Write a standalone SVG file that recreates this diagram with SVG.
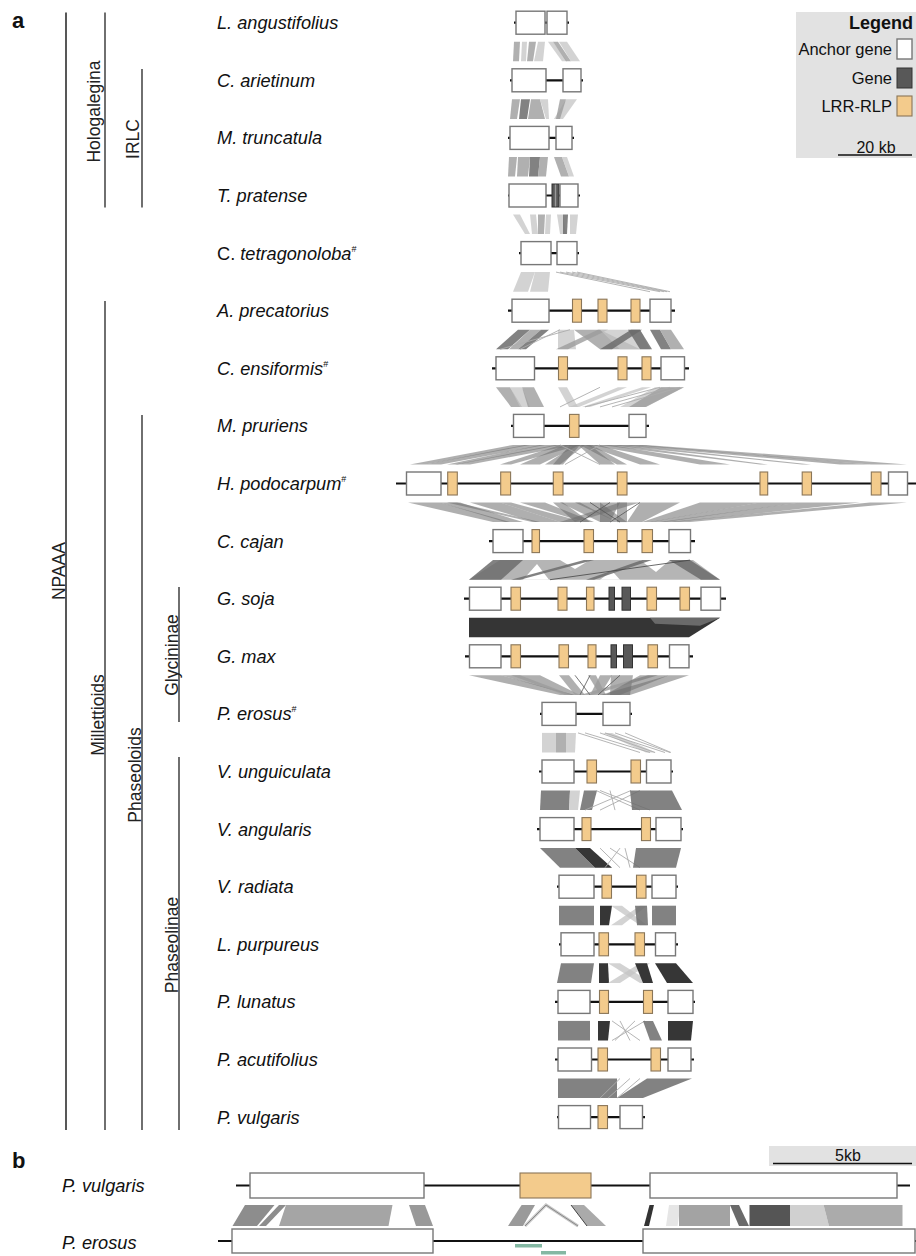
<svg xmlns="http://www.w3.org/2000/svg" width="916" height="1256" viewBox="0 0 916 1256">
<style>
text{font-family:"Liberation Sans",Arial,sans-serif;fill:#111}
.sp{font-size:18.2px;font-style:italic}
.cl{font-size:17.5px;fill:#222}
.sup{font-size:9px;font-style:normal}
.pl{font-size:22px;font-weight:bold}
.cln{stroke:#333;stroke-width:1.4}
.ln{stroke:#111;stroke-width:2.2}
.anc{fill:#fff;stroke:#777;stroke-width:1.4}
.lrr{fill:#f3cb8c;stroke:#8a7658;stroke-width:1.1}
.gn{fill:#585858;stroke:#333;stroke-width:1}
.q1{fill:#c4c4c4;fill-opacity:.75}
.q2{fill:#9c9c9c;fill-opacity:.8}
.q3{fill:#6c6c6c;fill-opacity:.85}
.q4{fill:#363636}
.w{fill:#6e6e6e;fill-opacity:.55}
.tl{stroke:#adadad;stroke-width:.9;fill:none}
.dl{stroke:#555;stroke-width:.8;fill:none}
</style>

<!-- panel labels -->
<text class="pl" x="12" y="28">a</text>
<text class="pl" x="12" y="1168">b</text>

<!-- clade tree -->
<g id="clades">
<line x1="66" y1="12.5" x2="66" y2="1130" stroke="#111" stroke-width="1.4"/>
<line class="cln" x1="105" y1="12.5" x2="105" y2="207.5"/>
<line class="cln" x1="142" y1="69" x2="142" y2="207.5"/>
<line class="cln" x1="105" y1="301" x2="105" y2="1130"/>
<line class="cln" x1="142" y1="415" x2="142" y2="1130"/>
<line class="cln" x1="179" y1="587" x2="179" y2="722"/>
<line class="cln" x1="179" y1="757" x2="179" y2="1130"/>
<text class="cl" text-anchor="middle" transform="translate(65,571) rotate(-90)">NPAAA</text>
<text class="cl" text-anchor="middle" transform="translate(99.5,111.5) rotate(-90)">Hologalegina</text>
<text class="cl" text-anchor="middle" transform="translate(139,139) rotate(-90)">IRLC</text>
<text class="cl" text-anchor="middle" transform="translate(104,715) rotate(-90)">Millettioids</text>
<text class="cl" text-anchor="middle" transform="translate(141,775) rotate(-90)">Phaseoloids</text>
<text class="cl" text-anchor="middle" transform="translate(177.5,655) rotate(-90)">Glycininae</text>
<text class="cl" text-anchor="middle" transform="translate(178,945) rotate(-90)">Phaseolinae</text>
</g>

<!-- species labels -->
<g id="labels">
<text class="sp" x="217" y="29.2">L. angustifolius</text>
<text class="sp" x="217" y="86.8">C. arietinum</text>
<text class="sp" x="217" y="144.4">M. truncatula</text>
<text class="sp" x="217" y="202">T. pratense</text>
<text class="sp" x="217" y="259.6"><tspan font-style="normal">C.</tspan> tetragonoloba<tspan class="sup" dy="-8">#</tspan></text>
<text class="sp" x="217" y="317.2">A. precatorius</text>
<text class="sp" x="217" y="374.8">C. ensiformis<tspan class="sup" dy="-8">#</tspan></text>
<text class="sp" x="217" y="432.4">M. pruriens</text>
<text class="sp" x="217" y="490">H. podocarpum<tspan class="sup" dy="-8">#</tspan></text>
<text class="sp" x="217" y="547.6">C. cajan</text>
<text class="sp" x="217" y="605.2">G. soja</text>
<text class="sp" x="217" y="662.8">G. max</text>
<text class="sp" x="217" y="720.4">P. erosus<tspan class="sup" dy="-8">#</tspan></text>
<text class="sp" x="217" y="778">V. unguiculata</text>
<text class="sp" x="217" y="835.6">V. angularis</text>
<text class="sp" x="217" y="893.2">V. radiata</text>
<text class="sp" x="217" y="950.8">L. purpureus</text>
<text class="sp" x="217" y="1008.4">P. lunatus</text>
<text class="sp" x="217" y="1066">P. acutifolius</text>
<text class="sp" x="217" y="1123.6">P. vulgaris</text>
</g>

<!-- synteny connectors -->
<g id="connectors">
<g transform="translate(0,41.7)">
<polygon class="q2" points="514,0 520,0 519,19.6 513,19.6"/>
<polygon class="q1" points="522,0 527,0 526,19.6 521,19.6"/>
<polygon class="q2" points="529,0 536,0 533,19.6 527,19.6"/>
<polygon class="q1" points="538,0 545,0 543,19.6 534,19.6"/>
<polygon class="q1" points="548,0 553,0 567,19.6 562,19.6"/>
<polygon class="q2" points="553,0 558,0 571,19.6 566,19.6"/>
<polygon class="q1" points="559,0 567,0 580,19.6 571,19.6"/>
</g>
<g transform="translate(0,99.3)">
<polygon class="q2" points="512,0 520,0 517,19.6 510,19.6"/>
<polygon class="q3" points="521,0 530,0 527,19.6 519,19.6"/>
<polygon class="q2" points="531,0 540,0 545,19.6 528,19.6"/>
<polygon class="q1" points="540,0 548,0 549,19.6 546,19.6"/>
<polygon class="q1" points="566,0 577,0 563,19.6 554,19.6"/>
<polygon class="q2" points="560,0 566,0 560,19.6 556,19.6"/>
</g>
<g transform="translate(0,156.9)">
<polygon class="q2" points="509,0 517,0 515,19.6 508,19.6"/>
<polygon class="q2" points="518,0 530,0 528,19.6 517,19.6"/>
<polygon class="q3" points="530,0 540,0 538,19.6 529,19.6"/>
<polygon class="q2" points="540,0 548,0 546,19.6 538,19.6"/>
<polygon class="q2" points="554,0 562,0 569,19.6 561,19.6"/>
<polygon class="q1" points="562,0 567,0 574,19.6 569,19.6"/>
</g>
<g transform="translate(0,214.5)">
<polygon class="q1" points="513,0 520,0 530,19.6 525,19.6"/>
<polygon class="q1" points="530,0 536,0 538,19.6 532,19.6"/>
<polygon class="q2" points="538,0 545,0 544,19.6 538,19.6"/>
<polygon class="q1" points="546,0 551,0 550,19.6 545,19.6"/>
<polygon class="q1" points="557,0 563,0 566,19.6 560,19.6"/>
<polygon class="q3" points="563,0 568,0 567,19.6 563,19.6"/>
<polygon class="q1" points="570,0 578,0 576,19.6 570,19.6"/>
</g>
<g transform="translate(0,272.1)">
<polygon class="q1" points="521,0 535,0 528,19.6 513,19.6"/>
<polygon class="q1" points="535,0 550,0 548,19.6 530,19.6"/>
<path class="tl" d="M556,0L650,19.6M560,0L660,19.6M566,0L664,19.6M572,0L667,19.6M577,0L670,19.6"/>
</g>
<g transform="translate(0,329.7)">
<polygon class="q3" points="518,0 530,0 508,19.6 496,19.6"/>
<polygon class="q2" points="530,0 541,0 518,19.6 509,19.6"/>
<polygon class="q3" points="541,0 549,0 526,19.6 518,19.6"/>
<polygon class="q1" points="558,0 574,0 576,19.6 558,19.6"/>
<polygon class="q2" points="574,0 600,0 640,19.6 600,19.6"/>
<polygon class="q2" points="598,0 608,0 568,19.6 556,19.6"/>
<polygon class="q1" points="600,0 640,0 650,19.6 620,19.6"/>
<polygon class="q3" points="631,0 642,0 612,19.6 600,19.6"/>
<polygon class="q3" points="628,0 640,0 652,19.6 640,19.6"/>
<polygon class="q3" points="650,0 660,0 671,19.6 661,19.6"/>
<polygon class="q2" points="660,0 671,0 684,19.6 671,19.6"/>
<path class="tl" d="M560,0L520,19.6M570,0L500,19.6"/>
</g>
<g transform="translate(0,387.3)">
<polygon class="q2" points="496,0 510,0 522,19.6 511,19.6"/>
<polygon class="q1" points="510,0 522,0 530,19.6 520,19.6"/>
<polygon class="q2" points="522,0 534,0 544,19.6 528,19.6"/>
<polygon class="q1" points="558,0 567,0 578,19.6 569,19.6"/>
<polygon class="q1" points="618,0 627,0 579,19.6 569,19.6"/>
<polygon class="q1" points="642,0 651,0 590,19.6 582,19.6"/>
<polygon class="q1" points="655,0 684,0 645,19.6 620,19.6"/>
<polygon class="q2" points="661,0 684,0 646,19.6 629,19.6"/>
<path class="tl" d="M660,0L585,19.6M670,0L600,19.6M680,0L612,19.6M600,0L560,19.6"/>
</g>
<g transform="translate(0,444.9)">
<polygon class="w" points="513,0 530,0 425,19.6 410,19.6"/>
<polygon class="w" points="525,0 545,0 441,19.6 425,19.6"/>
<polygon class="w" points="540,0 560,0 457,19.6 447,19.6"/>
<polygon class="w" points="555,0 575,0 470,19.6 455,19.6"/>
<polygon class="w" points="560,0 580,0 511,19.6 500,19.6"/>
<polygon class="w" points="565,0 580,0 540,19.6 520,19.6"/>
<polygon class="w" points="570,0 580,0 563,19.6 553,19.6"/>
<polygon class="w" points="575,0 585,0 560,19.6 545,19.6"/>
<polygon class="w" points="578,0 590,0 615,19.6 600,19.6"/>
<polygon class="w" points="580,0 592,0 627,19.6 617,19.6"/>
<polygon class="w" points="585,0 600,0 660,19.6 640,19.6"/>
<polygon class="w" points="590,0 610,0 730,19.6 700,19.6"/>
<polygon class="w" points="600,0 620,0 768,19.6 760,19.6"/>
<polygon class="w" points="610,0 630,0 811,19.6 802,19.6"/>
<polygon class="w" points="620,0 640,0 870,19.6 840,19.6"/>
<polygon class="w" points="630,0 646,0 907,19.6 871,19.6"/>
<path class="tl" d="M560,0L600,19.6M600,0L565,19.6"/>
</g>
<g transform="translate(0,502.5)">
<polygon class="w" points="408,0 440,0 510,19.6 493,19.6"/>
<polygon class="w" points="440,0 460,0 523,19.6 505,19.6"/>
<polygon class="w" points="447,0 457,0 540,19.6 532,19.6"/>
<polygon class="w" points="470,0 500,0 560,19.6 535,19.6"/>
<polygon class="w" points="500,0 511,0 584,19.6 560,19.6"/>
<polygon class="w" points="520,0 545,0 594,19.6 584,19.6"/>
<polygon class="w" points="553,0 563,0 590,19.6 575,19.6"/>
<polygon class="w" points="560,0 580,0 617,19.6 600,19.6"/>
<polygon class="w" points="575,0 600,0 627,19.6 617,19.6"/>
<polygon class="w" points="600,0 620,0 610,19.6 600,19.6"/>
<polygon class="w" points="617,0 627,0 627,19.6 617,19.6"/>
<polygon class="w" points="620,0 640,0 575,19.6 560,19.6"/>
<polygon class="w" points="640,0 680,0 642,19.6 627,19.6"/>
<polygon class="w" points="700,0 760,0 652,19.6 642,19.6"/>
<polygon class="w" points="760,0 800,0 665,19.6 650,19.6"/>
<polygon class="w" points="800,0 860,0 675,19.6 660,19.6"/>
<polygon class="w" points="870,0 907,0 690,19.6 669,19.6"/>
<path class="dl" d="M610,0L580,19.6M640,0L610,19.6M590,0L620,19.6"/>
</g>
<g transform="translate(0,560.1)">
<polygon fill="#a8a8a8" fill-opacity=".85" points="500,0 693,0 720,19.6 469,19.6"/>
<polygon fill="#fff" points="523,19.6 549,19.6 537,4"/>
<polygon fill="#fff" points="560,0 590,0 575,9"/>
<polygon fill="#fff" points="640,0 670,0 656,12"/>
<polygon fill="#fff" points="600,19.6 620,19.6 612,11"/>
<polygon class="q3" points="493,0 523,0 501,19.6 469,19.6" fill-opacity=".5"/>
<polygon class="q3" points="584,0 594,0 520,19.6 511,19.6" fill-opacity=".45"/>
<polygon class="q3" points="642,0 652,0 594,19.6 586,19.6" fill-opacity=".45"/>
<polygon class="q3" points="669,0 690,0 720,19.6 701,19.6" fill-opacity=".45"/>
<path d="M550,19.6L690,0" stroke="#444" stroke-width=".8"/>
</g>
<g transform="translate(0,617.7)">
<polygon fill="#353535" points="469,0 720,0 689,19.6 469,19.6"/>
<polygon fill="#6a6a6a" points="650,0 720,0 700,8 655,6"/>
</g>
<g transform="translate(0,675.3)">
<polygon class="w" points="469,0 501,0 575,19.6 560,19.6"/>
<polygon class="w" points="501,0 540,0 580,19.6 570,19.6"/>
<polygon class="q2" points="511,0 520,0 572,19.6 565,19.6"/>
<polygon class="q2" points="559,0 569,0 585,19.6 575,19.6"/>
<polygon class="q2" points="588,0 596,0 606,19.6 600,19.6"/>
<polygon class="q2" points="600,0 612,0 600,19.6 590,19.6"/>
<polygon class="q2" points="611,0 633,0 630,19.6 610,19.6"/>
<polygon class="q2" points="648,0 658,0 592,19.6 580,19.6"/>
<polygon class="w" points="669,0 689,0 630,19.6 600,19.6"/>
<polygon class="w" points="640,0 669,0 620,19.6 605,19.6"/>
<path class="dl" d="M575,0L590,19.6M590,0L580,19.6M620,0L598,19.6"/>
</g>
<g transform="translate(0,732.9)">
<polygon class="q1" points="542,0 556,0 556,19.6 542,19.6"/>
<polygon class="q2" points="556,0 566,0 566,19.6 556,19.6"/>
<polygon class="q1" points="566,0 576,0 575,19.6 566,19.6"/>
<polygon class="q1" points="603,0 612,0 656,19.6 646,19.6"/>
<path class="tl" d="M578,0L640,19.6M585,0L650,19.6M600,0L655,19.6M605,0L665,19.6M615,0L670,19.6M625,0L671,19.6"/>
</g>
<g transform="translate(0,790.5)">
<polygon class="q3" points="541,0 570,0 569,19.6 540,19.6"/>
<polygon class="q1" points="570,0 580,0 578,19.6 569,19.6"/>
<polygon class="q3" points="584,0 597,0 592,19.6 580,19.6"/>
<path class="tl" d="M596,0L640,19.6M600,0L650,19.6M631,0L585,19.6M640,0L600,19.6M610,0L615,19.6"/>
<polygon class="q3" points="630,0 672,0 682,19.6 632,19.6"/>
</g>
<g transform="translate(0,848.1)">
<polygon class="q3" points="540,0 575,0 595,19.6 560,19.6"/>
<polygon class="q4" points="575,0 590,0 612,19.6 595,19.6"/>
<path class="tl" d="M600,0L620,19.6M610,0L640,19.6M620,0L605,19.6M625,0L630,19.6"/>
<polygon class="q3" points="636,0 681,0 676,19.6 633,19.6"/>
</g>
<g transform="translate(0,905.7)">
<polygon class="q3" points="559,0 594,0 594,19.6 559,19.6"/>
<polygon class="q4" points="600,0 612,0 609,19.6 600,19.6"/>
<polygon class="q1" points="611,0 622,0 647,19.6 640,19.6"/>
<polygon class="q1" points="640,0 647,0 622,19.6 611,19.6"/>
<polygon class="q3" points="635,0 647,0 648,19.6 637,19.6"/>
<polygon class="q3" points="652,0 676,0 676,19.6 652,19.6"/>
</g>
<g transform="translate(0,963.3)">
<polygon class="q3" points="561,0 594,0 591,19.6 557,19.6"/>
<polygon class="q4" points="599,0 608,0 609,19.6 599,19.6"/>
<polygon class="q1" points="608,0 620,0 652,19.6 640,19.6"/>
<polygon class="q1" points="640,0 650,0 620,19.6 608,19.6"/>
<polygon class="q4" points="635,0 647,0 653,19.6 643,19.6"/>
<polygon class="q4" points="655,0 676,0 693,19.6 667,19.6"/>
</g>
<g transform="translate(0,1020.9)">
<polygon class="q3" points="558,0 590,0 590,19.6 558,19.6"/>
<polygon class="q4" points="598,0 610,0 608,19.6 598,19.6"/>
<path class="tl" d="M612,0L640,19.6M620,0L630,19.6M635,0L615,19.6M645,0L612,19.6"/>
<polygon class="q3" points="643,0 653,0 662,19.6 650,19.6"/>
<polygon class="q4" points="668,0 693,0 691,19.6 668,19.6"/>
</g>
<g transform="translate(0,1078.5)">
<polygon class="q3" points="558,0 617,0 617,19.6 558,19.6"/>
<polygon class="q3" points="647,0 692,0 643,19.6 617,19.6"/>
<path class="tl" d="M620,0L600,19.6M630,0L608,19.6M640,0L617,19.6"/>
</g>
</g>

<!-- gene rows -->
<g id="r1" transform="translate(0,22.7)"><line class="ln" x1="514" y1="0" x2="569" y2="0"/><rect class="anc" x="516" y="-11.5" width="29" height="23"/><rect class="anc" x="547" y="-11.5" width="20" height="23"/></g>
<g id="r2" transform="translate(0,80.3)"><line class="ln" x1="510" y1="0" x2="583" y2="0"/><rect class="anc" x="512" y="-11.5" width="34" height="23"/><rect class="anc" x="563" y="-11.5" width="18" height="23"/></g>
<g id="r3" transform="translate(0,137.9)"><line class="ln" x1="508" y1="0" x2="574" y2="0"/><rect class="anc" x="510" y="-11.5" width="39" height="23"/><rect class="anc" x="556" y="-11.5" width="16" height="23"/></g>
<g id="r4" transform="translate(0,195.5)"><line class="ln" x1="508" y1="0" x2="580" y2="0"/><rect class="anc" x="509" y="-11.5" width="37" height="23"/><rect class="gn" x="552" y="-11.5" width="7" height="23"/><line x1="555.5" y1="-11" x2="555.5" y2="11" stroke="#999" stroke-width="1.4"/><rect class="anc" x="560" y="-11.5" width="18" height="23"/></g>
<g id="r5" transform="translate(0,253.1)"><line class="ln" x1="519" y1="0" x2="579" y2="0"/><rect class="anc" x="521" y="-11.5" width="30" height="23"/><rect class="anc" x="557" y="-11.5" width="20" height="23"/></g>
<g id="r6" transform="translate(0,310.7)"><line class="ln" x1="508" y1="0" x2="675" y2="0"/><rect class="anc" x="512" y="-11.5" width="37" height="23"/><rect class="lrr" x="572.5" y="-11.5" width="9" height="23"/><rect class="lrr" x="598" y="-11.5" width="9" height="23"/><rect class="lrr" x="631" y="-11.5" width="9" height="23"/><rect class="anc" x="650" y="-11.5" width="21" height="23"/></g>
<g id="r7" transform="translate(0,368.3)"><line class="ln" x1="492" y1="0" x2="689" y2="0"/><rect class="anc" x="496" y="-11.5" width="38.5" height="23"/><rect class="lrr" x="558.5" y="-11.5" width="9" height="23"/><rect class="lrr" x="618" y="-11.5" width="9" height="23"/><rect class="lrr" x="642" y="-11.5" width="9" height="23"/><rect class="anc" x="661" y="-11.5" width="23.5" height="23"/></g>
<g id="r8" transform="translate(0,425.9)"><line class="ln" x1="511" y1="0" x2="649" y2="0"/><rect class="anc" x="513.5" y="-11.5" width="30.5" height="23"/><rect class="lrr" x="569.5" y="-11.5" width="9.5" height="23"/><rect class="anc" x="629" y="-11.5" width="17" height="23"/></g>
<g id="r9" transform="translate(0,483.5)"><line class="ln" x1="396" y1="0" x2="916" y2="0"/><rect class="anc" x="406.5" y="-11.5" width="34.5" height="23"/><rect class="lrr" x="447.7" y="-11.5" width="9.6" height="23"/><rect class="lrr" x="500.7" y="-11.5" width="9.9" height="23"/><rect class="lrr" x="553.3" y="-11.5" width="9.7" height="23"/><rect class="lrr" x="617.3" y="-11.5" width="9.7" height="23"/><rect class="lrr" x="760" y="-11.5" width="7.7" height="23"/><rect class="lrr" x="802.2" y="-11.5" width="9.3" height="23"/><rect class="lrr" x="871.3" y="-11.5" width="9.7" height="23"/><rect class="anc" x="888.5" y="-11.5" width="19" height="23"/></g>
<g id="r10" transform="translate(0,541.1)"><line class="ln" x1="489" y1="0" x2="695" y2="0"/><rect class="anc" x="493" y="-11.5" width="30" height="23"/><rect class="lrr" x="532" y="-11.5" width="7.5" height="23"/><rect class="lrr" x="584" y="-11.5" width="9.5" height="23"/><rect class="lrr" x="617.5" y="-11.5" width="9.5" height="23"/><rect class="lrr" x="642" y="-11.5" width="10.5" height="23"/><rect class="anc" x="669" y="-11.5" width="21.5" height="23"/></g>
<g id="r11" transform="translate(0,598.7)"><line class="ln" x1="464" y1="0" x2="726" y2="0"/><rect class="anc" x="469.5" y="-11.5" width="31.5" height="23"/><rect class="lrr" x="511" y="-11.5" width="9.5" height="23"/><rect class="lrr" x="558" y="-11.5" width="9" height="23"/><rect class="lrr" x="586.5" y="-11.5" width="7.5" height="23"/><rect class="gn" x="609" y="-11.5" width="5.5" height="23"/><rect class="gn" x="622" y="-11.5" width="8.5" height="23"/><rect class="lrr" x="647" y="-11.5" width="9.5" height="23"/><rect class="lrr" x="680" y="-11.5" width="9.5" height="23"/><rect class="anc" x="701" y="-11.5" width="19.5" height="23"/></g>
<g id="r12" transform="translate(0,656.3)"><line class="ln" x1="465" y1="0" x2="693" y2="0"/><rect class="anc" x="469.5" y="-11.5" width="31.5" height="23"/><rect class="lrr" x="511" y="-11.5" width="9.5" height="23"/><rect class="lrr" x="559" y="-11.5" width="9.5" height="23"/><rect class="lrr" x="588" y="-11.5" width="8" height="23"/><rect class="gn" x="611" y="-11.5" width="5.5" height="23"/><rect class="gn" x="623.5" y="-11.5" width="9" height="23"/><rect class="lrr" x="648" y="-11.5" width="9.5" height="23"/><rect class="anc" x="669.5" y="-11.5" width="19.5" height="23"/></g>
<g id="r13" transform="translate(0,713.9)"><line class="ln" x1="540" y1="0" x2="632" y2="0"/><rect class="anc" x="542" y="-11.5" width="34" height="23"/><rect class="anc" x="603" y="-11.5" width="27" height="23"/></g>
<g id="r14" transform="translate(0,771.5)"><line class="ln" x1="539" y1="0" x2="673" y2="0"/><rect class="anc" x="542" y="-11.5" width="32" height="23"/><rect class="lrr" x="587" y="-11.5" width="9.5" height="23"/><rect class="lrr" x="631" y="-11.5" width="9.5" height="23"/><rect class="anc" x="646.5" y="-11.5" width="24.5" height="23"/></g>
<g id="r15" transform="translate(0,829.1)"><line class="ln" x1="537" y1="0" x2="683" y2="0"/><rect class="anc" x="540" y="-11.5" width="34" height="23"/><rect class="lrr" x="582" y="-11.5" width="9" height="23"/><rect class="lrr" x="641.5" y="-11.5" width="9" height="23"/><rect class="anc" x="656" y="-11.5" width="25" height="23"/></g>
<g id="r16" transform="translate(0,886.7)"><line class="ln" x1="557" y1="0" x2="678" y2="0"/><rect class="anc" x="559" y="-11.5" width="35" height="23"/><rect class="lrr" x="602" y="-11.5" width="9.5" height="23"/><rect class="lrr" x="636.5" y="-11.5" width="9.5" height="23"/><rect class="anc" x="652" y="-11.5" width="24" height="23"/></g>
<g id="r17" transform="translate(0,944.3)"><line class="ln" x1="559" y1="0" x2="678" y2="0"/><rect class="anc" x="561" y="-11.5" width="33" height="23"/><rect class="lrr" x="599" y="-11.5" width="9.5" height="23"/><rect class="lrr" x="635" y="-11.5" width="9.5" height="23"/><rect class="anc" x="655.5" y="-11.5" width="20" height="23"/></g>
<g id="r18" transform="translate(0,1001.9)"><line class="ln" x1="555" y1="0" x2="695" y2="0"/><rect class="anc" x="558" y="-11.5" width="32" height="23"/><rect class="lrr" x="599.5" y="-11.5" width="9" height="23"/><rect class="lrr" x="643.5" y="-11.5" width="9" height="23"/><rect class="anc" x="668" y="-11.5" width="25" height="23"/></g>
<g id="r19" transform="translate(0,1059.5)"><line class="ln" x1="555" y1="0" x2="694" y2="0"/><rect class="anc" x="558" y="-11.5" width="33.5" height="23"/><rect class="lrr" x="598" y="-11.5" width="9.5" height="23"/><rect class="lrr" x="651" y="-11.5" width="9.5" height="23"/><rect class="anc" x="668" y="-11.5" width="23" height="23"/></g>
<g id="r20" transform="translate(0,1117.1)"><line class="ln" x1="557" y1="0" x2="645" y2="0"/><rect class="anc" x="558.5" y="-11.5" width="32" height="23"/><rect class="lrr" x="598" y="-11.5" width="9.5" height="23"/><rect class="anc" x="620" y="-11.5" width="22.5" height="23"/></g>

<!-- legend -->
<g id="legend">
<rect x="796" y="12" width="120" height="146" fill="#e2e2e2"/>
<text x="913" y="29" text-anchor="end" font-size="18" font-weight="bold">Legend</text>
<text x="892" y="55" text-anchor="end" font-size="16.5">Anchor gene</text>
<rect class="anc" x="897" y="39" width="15" height="20"/>
<text x="892" y="84" text-anchor="end" font-size="16.5">Gene</text>
<rect class="gn" x="897" y="68" width="15" height="20"/>
<text x="892" y="112" text-anchor="end" font-size="16.5">LRR-RLP</text>
<rect class="lrr" x="897" y="96" width="15" height="20"/>
<line x1="838" y1="155" x2="912" y2="155" stroke="#111" stroke-width="1.5"/>
<text x="876" y="153" text-anchor="middle" font-size="16">20 kb</text>
</g>

<!-- panel b -->
<g id="b-scale">
<rect x="769" y="1146" width="147" height="20" fill="#e2e2e2"/>
<line x1="773" y1="1163.5" x2="912" y2="1163.5" stroke="#111" stroke-width="1.5"/>
<text x="848" y="1161" text-anchor="middle" font-size="16">5kb</text>
</g>
<g id="b-vulgaris">
<text class="sp" x="62" y="1192">P. vulgaris</text>
<line class="ln" x1="236" y1="1185.5" x2="910" y2="1185.5"/>
<rect class="anc" x="250" y="1173" width="174" height="25"/>
<rect class="lrr" x="520" y="1173" width="71" height="25"/>
<rect class="anc" x="650" y="1173" width="247" height="25"/>
</g>
<g id="b-connectors">
<polygon fill="#8d8d8d" points="245,1205 274.5,1205 257,1226 232.5,1226"/>
<polygon fill="#8d8d8d" points="279,1205 286,1205 266,1226 259,1226"/>
<polygon fill="#a5a5a5" points="286,1205 392.5,1205 388.5,1226 279,1226"/>
<polygon fill="#999" points="409,1205 425,1205 433,1226 416,1226"/>
<polygon fill="#9a9a9a" points="521.6,1205 535,1205 523,1226 508,1226"/>
<path d="M525,1226L546,1205L578,1226" fill="none" stroke="#c8c8c8" stroke-width="3"/>
<path d="M525,1226L546,1205L578,1226" fill="none" stroke="#777" stroke-width=".8"/>
<polygon fill="#aaa" points="571,1205 584,1205 606,1226 587,1226"/>
<line x1="571" y1="1205" x2="587" y2="1226" stroke="#444" stroke-width="1"/>
<polygon fill="#333" points="649.5,1205 654,1205 649,1226 644,1226"/>
<polygon fill="#e6e6e6" points="669,1205 680.5,1205 677.6,1226 666,1226"/>
<polygon fill="#a3a3a3" points="679,1205 730,1205 730,1226 679,1226"/>
<polygon fill="#6a6a6a" points="730,1205 739,1205 749,1226 739,1226"/>
<polygon fill="#555" points="749.5,1205 790,1205 790,1226 749.5,1226"/>
<polygon fill="#d0d0d0" points="790,1205 823.6,1205 829,1226 790,1226"/>
<polygon fill="#ababab" points="823.6,1205 902.5,1205 902.5,1226 829,1226"/>
</g>
<g id="b-erosus">
<text class="sp" x="62" y="1249">P. erosus</text>
<line class="ln" x1="218" y1="1241" x2="916" y2="1241"/>
<rect class="anc" x="232" y="1229" width="201" height="24"/>
<rect class="anc" x="643" y="1229" width="272" height="24"/>
<rect x="515" y="1244" width="27" height="3.5" fill="#84b8a3"/>
<rect x="541" y="1251" width="25" height="3.5" fill="#84b8a3"/>
</g>
</svg>
